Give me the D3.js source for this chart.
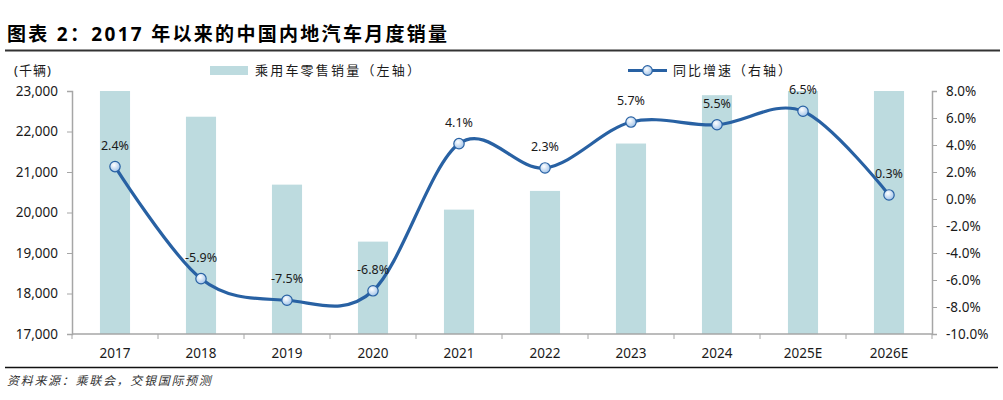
<!DOCTYPE html>
<html><head><meta charset="utf-8">
<script src="https://cdn.jsdelivr.net/npm/d3@7/dist/d3.min.js"></script>
<style>
body{margin:0;background:#fff;}
svg{display:block;font-family:"Noto Sans","Noto Sans CJK SC",sans-serif;}
</style></head>
<body>
<svg id="chart" width="1003" height="400"></svg>
<script>
const categories = ["2017","2018","2019","2020","2021","2022","2023","2024","2025E","2026E"];
const sales = [23770, 22365, 20688, 19281, 20071, 20533, 21703, 22897, 24385, 24458];
const growth = [2.4, -5.9, -7.5, -6.8, 4.1, 2.3, 5.7, 5.5, 6.5, 0.3];
const leftTicks = [17000, 18000, 19000, 20000, 21000, 22000, 23000];
const rightTicks = [-10, -8, -6, -4, -2, 0, 2, 4, 6, 8];
const title = "图表 2：2017 年以来的中国内地汽车月度销量";
const unitLabel = "(千辆)";
const barLegend = "乘用车零售销量（左轴）";
const lineLegend = "同比增速（右轴）";
const source = "资料来源：乘联会，交银国际预测";

const svg = d3.select("#chart");
const m = {left:72, right:932, top:91, bottom:334};
const barColor = "#BDDBDF", lineColor = "#2861A3", axisColor = "#A6A6A6", textColor = "#1a1a1a";

const x = d3.scaleBand().domain(categories).range([m.left, m.right]).paddingInner(0.65).paddingOuter(0.325);
const yL = d3.scaleLinear().domain([17000, 23000]).range([m.bottom, m.top]);
const yR = d3.scaleLinear().domain([-10, 8]).range([m.bottom, m.top]);

// title
svg.append("text").attr("x", 7).attr("y", 41).attr("font-size", 19).attr("font-weight", "bold")
  .attr("letter-spacing", "2.3px").attr("fill", "#000").text(title);
svg.append("line").attr("x1", 5).attr("x2", 1000).attr("y1", 50.5).attr("y2", 50.5)
  .attr("stroke", "#333").attr("stroke-width", 2);

const defs = svg.append("defs");
defs.append("clipPath").attr("id", "plotClip").append("rect")
  .attr("x", m.left).attr("y", m.top).attr("width", m.right - m.left).attr("height", m.bottom - m.top);
const grad = defs.append("radialGradient").attr("id", "mk").attr("cx", "40%").attr("cy", "35%").attr("r", "70%");
grad.append("stop").attr("offset", "0%").attr("stop-color", "#ffffff");
grad.append("stop").attr("offset", "100%").attr("stop-color", "#9CC0E8");

// bars
svg.append("g").attr("clip-path", "url(#plotClip)").selectAll("rect").data(categories).join("rect")
  .attr("x", d => x(d)).attr("width", x.bandwidth())
  .attr("y", (d, i) => yL(sales[i])).attr("height", (d, i) => m.bottom - yL(sales[i]))
  .attr("fill", barColor);

// axes
const axL = d3.axisLeft(yL).tickValues(leftTicks).tickFormat(d3.format(",")).tickSizeOuter(0).tickSize(5).tickPadding(9);
const gL = svg.append("g").attr("transform", `translate(${m.left},0)`).call(axL);
const axR = d3.axisRight(yR).tickValues(rightTicks).tickFormat(d => d.toFixed(1) + "%").tickSizeOuter(0).tickSize(5).tickPadding(9);
const gR = svg.append("g").attr("transform", `translate(${m.right},0)`).call(axR);
const axB = d3.axisBottom(x).tickSize(0).tickPadding(14);
const gB = svg.append("g").attr("transform", `translate(0,${m.bottom})`).call(axB);
// category boundary ticks on x axis
const step = x.step();
gB.selectAll(".bt").data(d3.range(categories.length + 1)).join("line").attr("class", "bt")
  .attr("x1", i => m.left + i * step).attr("x2", i => m.left + i * step).attr("y1", 0).attr("y2", 5)
  .attr("stroke", axisColor);
[gL, gR, gB].forEach(g => {
  g.select(".domain").attr("stroke", axisColor).attr("stroke-width", 1.5);
  g.selectAll(".tick line").attr("stroke", axisColor);
  g.selectAll("text").attr("font-size", 13.5).attr("fill", textColor).attr("font-family", "'Noto Sans',sans-serif");
});
gB.select(".domain").attr("d", `M${m.left},0H${m.right}`);

// line
const line = d3.line().x((d, i) => x(categories[i]) + x.bandwidth() / 2).y(d => yR(d)).curve(d3.curveCardinal.tension(0));
svg.append("path").datum(growth).attr("d", line).attr("fill", "none").attr("stroke", lineColor).attr("stroke-width", 3.2);
svg.append("g").selectAll("circle").data(growth).join("circle")
  .attr("cx", (d, i) => x(categories[i]) + x.bandwidth() / 2).attr("cy", d => yR(d)).attr("r", 5.2)
  .attr("fill", "url(#mk)").attr("stroke", lineColor).attr("stroke-width", 1.2);
svg.append("g").selectAll("text").data(growth).join("text")
  .attr("x", (d, i) => x(categories[i]) + x.bandwidth() / 2).attr("y", d => yR(d) - 17)
  .attr("text-anchor", "middle").attr("font-size", 12.5).attr("fill", textColor)
  .text(d => d.toFixed(1) + "%");

// unit label
svg.append("text").attr("x", 14).attr("y", 75).attr("font-size", 13).attr("fill", textColor).attr("letter-spacing", "1px").text(unitLabel);

// legend
svg.append("rect").attr("x", 210).attr("y", 66).attr("width", 38).attr("height", 9).attr("fill", barColor);
svg.append("text").attr("x", 255).attr("y", 75).attr("font-size", 13).attr("letter-spacing", "2.2px").attr("fill", textColor).text(barLegend);
svg.append("line").attr("x1", 628).attr("x2", 667).attr("y1", 70.5).attr("y2", 70.5).attr("stroke", lineColor).attr("stroke-width", 3.2);
svg.append("circle").attr("cx", 647.5).attr("cy", 70.5).attr("r", 4.8).attr("fill", "url(#mk)").attr("stroke", lineColor).attr("stroke-width", 1.2);
svg.append("text").attr("x", 673).attr("y", 75).attr("font-size", 13).attr("letter-spacing", "2px").attr("fill", textColor).text(lineLegend);

// bottom rule and source
svg.append("line").attr("x1", 5).attr("x2", 998).attr("y1", 367.5).attr("y2", 367.5).attr("stroke", "#111").attr("stroke-width", 1.5);
svg.append("text").attr("x", 7).attr("y", 385).attr("font-size", 12).attr("font-style", "italic").attr("letter-spacing", "1.7px").attr("fill", "#333").text(source);
</script>
</body></html>
